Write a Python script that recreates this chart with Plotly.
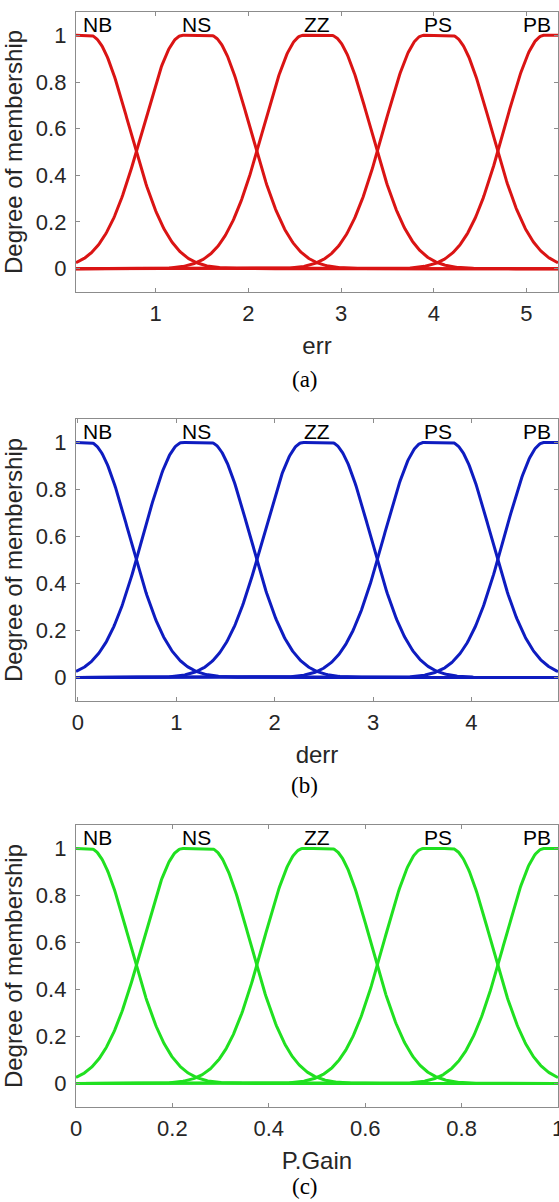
import numpy as np
import plotly.graph_objects as go

# Linguistic terms shared by all three fuzzy variables
mf_names = ["NB", "NS", "ZZ", "PS", "PB"]

# err: universe of discourse and two-sided Gaussian (gauss2mf) parameters
err_range = [0.14, 5.34]
err_centers = [0.14, 1.44, 2.74, 4.04, 5.34]
err_sigma = 0.425
err_flat = 0.15          # half-width of the flat top
err_ticks = [1, 2, 3, 4, 5]

# derr
derr_range = [-0.02, 4.88]
derr_centers = [-0.02, 1.205, 2.43, 3.655, 4.88]
derr_sigma = 0.40
derr_flat = 0.141
derr_ticks = [0, 1, 2, 3, 4]

# P.Gain output
gain_range = [0.0, 1.0]
gain_centers = [0.0, 0.25, 0.5, 0.75, 1.0]
gain_sigma = 0.0817
gain_flat = 0.029
gain_ticks = [0, 0.2, 0.4, 0.6, 0.8, 1]

y_ticks = [0, 0.2, 0.4, 0.6, 0.8, 1]
y_range = [-0.1, 1.1]


def gauss2mf(x, sigma, c1, c2):
    y = np.ones_like(x)
    left = x < c1
    right = x > c2
    y[left] = np.exp(-((x[left] - c1) ** 2) / (2 * sigma ** 2))
    y[right] = np.exp(-((x[right] - c2) ** 2) / (2 * sigma ** 2))
    return y


variables = [
    dict(name="err", rng=err_range, centers=err_centers, sigma=err_sigma,
         flat=err_flat, ticks=err_ticks, color="#da1414", caption="(a)",
         dom=[0.7443, 1.0], cap_y=0.6648),
    dict(name="derr", rng=derr_range, centers=derr_centers, sigma=derr_sigma,
         flat=derr_flat, ticks=derr_ticks, color="#0e1cc0", caption="(b)",
         dom=[0.3708, 0.6283], cap_y=0.294),
    dict(name="P.Gain", rng=gain_range, centers=gain_centers, sigma=gain_sigma,
         flat=gain_flat, ticks=gain_ticks, color="#20e020", caption="(c)",
         dom=[0.0, 0.2575], cap_y=-0.0725),
]

AX_COLOR = "#8c8c8c"
TXT_COLOR = "#262626"
SANS = "Liberation Sans, Arial, sans-serif"

fig = go.Figure()
annotations = []
layout_axes = {}

for i, v in enumerate(variables, start=1):
    sfx = "" if i == 1 else str(i)
    xref, yref = "x" + sfx, "y" + sfx
    x = np.linspace(v["rng"][0], v["rng"][1], 600)
    for name, c in zip(mf_names, v["centers"]):
        y = gauss2mf(x, v["sigma"], c - v["flat"], c + v["flat"])
        fig.add_trace(go.Scatter(x=x, y=y, mode="lines", name=name,
                                 line=dict(color=v["color"], width=3),
                                 xaxis=xref, yaxis=yref, showlegend=False,
                                 hoverinfo="skip"))
    # term labels above each membership function
    for k, (name, c) in enumerate(zip(mf_names, v["centers"])):
        if k == 0:
            xa, xs = "left", 5
        elif k == len(mf_names) - 1:
            xa, xs = "right", -5
        else:
            xa, xs = "center", 0
        annotations.append(dict(x=c, y=1.045, xref=xref, yref=yref, text=name,
                                showarrow=False, xanchor=xa, yanchor="middle",
                                xshift=xs,
                                font=dict(family=SANS, size=21, color="black")))
    # panel caption
    annotations.append(dict(x=0.475, y=v["cap_y"], xref="paper", yref="paper",
                            text=v["caption"], showarrow=False,
                            xanchor="center", yanchor="middle",
                            font=dict(family="Liberation Serif, Times New Roman, serif",
                                      size=23, color="black")))

    common = dict(showline=True, linecolor=AX_COLOR, linewidth=1.3,
                  mirror="ticks", ticks="inside", ticklen=4,
                  tickcolor=AX_COLOR, tickwidth=1, showgrid=False,
                  zeroline=False, automargin=False,
                  tickfont=dict(family=SANS, size=22, color=TXT_COLOR))
    layout_axes["xaxis" + sfx] = dict(
        common, domain=[0, 1], range=v["rng"], tickvals=v["ticks"],
        anchor=yref, ticklabelstandoff=1, ticklabeloverflow="allow",
        title=dict(text=v["name"], standoff=12,
                   font=dict(family=SANS, size=24, color=TXT_COLOR)))
    layout_axes["yaxis" + sfx] = dict(
        common, domain=v["dom"], range=y_range, tickvals=y_ticks,
        anchor=xref, ticklabelstandoff=4,
        title=dict(text="Degree of membership", standoff=6,
                   font=dict(family=SANS, size=24, color=TXT_COLOR)))

fig.update_layout(
    width=559, height=1202,
    margin=dict(l=76, r=1, t=12, b=95),
    paper_bgcolor="white", plot_bgcolor="white",
    annotations=annotations,
    **layout_axes,
)

fig.write_html("out.html")
